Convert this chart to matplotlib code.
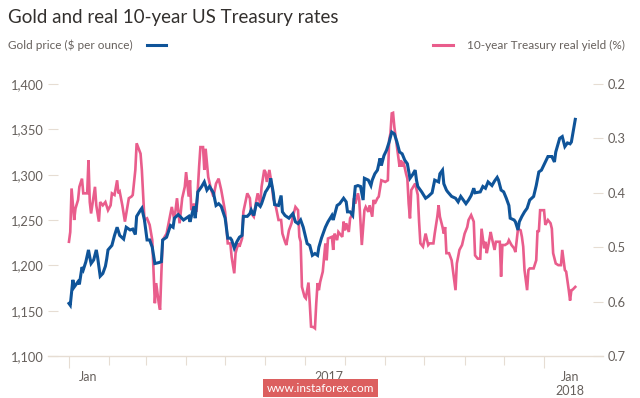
import matplotlib
matplotlib.use("Agg")
import matplotlib.pyplot as plt
from matplotlib.lines import Line2D

# days since 1 Jan 2017
gold_day = [0, 1, 3, 4, 7, 8, 10, 11, 13, 15, 16, 17, 19, 21, 22, 24, 26, 28, 29, 30,
            33, 35, 37, 39, 42, 44, 47, 49, 51, 52, 55, 56, 58, 60, 62, 64, 66, 69, 71, 72,
            75, 78, 80, 81, 84, 88, 92, 93, 96, 97, 99, 102, 104, 106, 108, 111, 113, 115, 117, 120,
            122, 124, 125, 127, 129, 131, 133, 134, 137, 139, 140, 142, 144, 145, 147, 148, 151, 152, 154, 155,
            157, 158, 161, 163, 164, 166, 169, 172, 174, 176, 178, 180, 183, 185, 187, 189, 191, 192, 194, 197,
            199, 202, 203, 206, 208, 211, 213, 214, 216, 218, 219, 220, 222, 224, 226, 227, 230, 232, 233, 235,
            237, 239, 240, 242, 244, 246, 248, 250, 252, 254, 256, 258, 260, 262, 264, 266, 267, 268, 271, 274,
            276, 279, 281, 284, 285, 287, 288, 290, 291, 294, 297, 299, 301, 303, 305, 307, 309, 311, 312, 316,
            318, 320, 322, 325, 327, 329, 330, 332, 334, 336, 338, 339, 342, 343, 345, 346, 348, 350, 352, 354,
            357, 359, 361, 363, 366, 368, 371, 373, 374, 377, 379, 381, 383, 385, 386, 388, 389]
gold = [1158, 1156, 1184, 1176, 1182, 1179, 1198, 1195, 1204, 1217, 1209, 1202, 1206, 1217, 1209, 1188, 1191, 1199, 1207, 1217,
        1222, 1233, 1242, 1233, 1229, 1242, 1239, 1240, 1234, 1254, 1261, 1263, 1250, 1228, 1228, 1220, 1202, 1203, 1204, 1228,
        1231, 1244, 1242, 1252, 1256, 1250, 1254, 1248, 1265, 1252, 1281, 1287, 1292, 1283, 1287, 1280, 1266, 1268, 1265, 1252,
        1230, 1230, 1228, 1219, 1226, 1231, 1233, 1254, 1254, 1257, 1261, 1255, 1268, 1268, 1265, 1268, 1281, 1283, 1288, 1296,
        1280, 1267, 1266, 1277, 1259, 1255, 1252, 1257, 1248, 1246, 1250, 1242, 1224, 1222, 1211, 1213, 1211, 1220, 1230, 1242,
        1248, 1255, 1250, 1266, 1268, 1274, 1270, 1259, 1259, 1255, 1272, 1287, 1288, 1287, 1272, 1296, 1294, 1288, 1294, 1301,
        1305, 1318, 1310, 1321, 1327, 1336, 1347, 1345, 1336, 1325, 1323, 1316, 1312, 1296, 1300, 1305, 1294, 1287, 1281, 1274,
        1276, 1280, 1294, 1292, 1301, 1305, 1290, 1283, 1281, 1276, 1274, 1270, 1276, 1272, 1268, 1272, 1277, 1285, 1280, 1281,
        1287, 1285, 1292, 1288, 1293, 1297, 1294, 1283, 1281, 1274, 1266, 1252, 1250, 1248, 1239, 1248, 1254, 1259, 1263, 1272,
        1276, 1288, 1303, 1305, 1314, 1320, 1320, 1314, 1325, 1340, 1342, 1331, 1335, 1334, 1336, 1353, 1361]

yield_day = [0, 1, 2, 4, 5, 7, 8, 10, 11, 14, 15, 16, 17, 20, 21, 23, 24, 26, 28, 30,
             32, 33, 35, 37, 38, 39, 41, 43, 46, 48, 49, 51, 52, 55, 56, 58, 60, 62, 64, 66,
             67, 69, 70, 71, 72, 75, 78, 79, 81, 83, 85, 87, 89, 90, 92, 93, 94, 96, 98, 100,
             101, 103, 104, 105, 107, 109, 111, 113, 115, 117, 120, 122, 124, 125, 127, 128, 130, 131, 133, 134,
             137, 139, 140, 142, 144, 145, 147, 148, 150, 151, 152, 154, 156, 157, 159, 161, 163, 164, 166, 167,
             169, 171, 172, 174, 176, 177, 178, 179, 181, 182, 184, 185, 186, 188, 189, 190, 191, 192, 193, 195,
             197, 198, 199, 202, 203, 204, 206, 207, 210, 211, 212, 213, 215, 216, 218, 219, 220, 222, 223, 224,
             225, 227, 228, 230, 231, 233, 234, 235, 237, 238, 240, 243, 245, 246, 247, 248, 249, 250, 252, 254,
             255, 256, 257, 259, 260, 261, 262, 263, 266, 268, 269, 270, 272, 274, 276, 277, 280, 281, 283, 284,
             285, 287, 288, 289, 290, 292, 294, 295, 297, 298, 300, 302, 304, 306, 307, 309, 311, 312, 314, 316,
             317, 319, 320, 321, 322, 324, 325, 327, 328, 331, 332, 333, 335, 337, 338, 340, 342, 343, 345, 347,
             348, 349, 350, 352, 353, 354, 357, 359, 360, 361, 362, 365, 366, 368, 370, 371, 372, 374, 376, 378,
             379, 381, 382, 384, 385, 386, 387, 389]
real_yield = [0.490, 0.472, 0.392, 0.450, 0.429, 0.413, 0.389, 0.374, 0.401, 0.401, 0.340, 0.417, 0.438, 0.389, 0.423, 0.453, 0.417, 0.423, 0.417, 0.432,
              0.423, 0.401, 0.404, 0.377, 0.401, 0.398, 0.423, 0.453, 0.410, 0.407, 0.404, 0.358, 0.309, 0.328, 0.358, 0.450, 0.447, 0.459, 0.487, 0.603,
              0.566, 0.603, 0.615, 0.548, 0.487, 0.475, 0.438, 0.426, 0.450, 0.410, 0.456, 0.410, 0.389, 0.362, 0.407, 0.377, 0.432, 0.420, 0.435, 0.352,
              0.316, 0.316, 0.358, 0.319, 0.371, 0.392, 0.407, 0.383, 0.374, 0.395, 0.435, 0.493, 0.493, 0.518, 0.548, 0.511, 0.493, 0.499, 0.484, 0.435,
              0.401, 0.410, 0.438, 0.444, 0.413, 0.401, 0.420, 0.389, 0.358, 0.362, 0.380, 0.358, 0.389, 0.410, 0.426, 0.450, 0.450, 0.475, 0.490, 0.496,
              0.469, 0.456, 0.444, 0.426, 0.432, 0.481, 0.490, 0.573, 0.591, 0.594, 0.565, 0.603, 0.646, 0.647, 0.649, 0.603, 0.566, 0.579, 0.564, 0.545,
              0.493, 0.524, 0.484, 0.481, 0.505, 0.475, 0.487, 0.472, 0.481, 0.453, 0.469, 0.456, 0.472, 0.447, 0.438, 0.410, 0.420, 0.401, 0.413, 0.456,
              0.496, 0.432, 0.426, 0.435, 0.423, 0.444, 0.413, 0.420, 0.410, 0.407, 0.377, 0.380, 0.377, 0.303, 0.291, 0.254, 0.253, 0.279, 0.316, 0.352,
              0.340, 0.352, 0.343, 0.365, 0.374, 0.420, 0.447, 0.395, 0.383, 0.404, 0.453, 0.493, 0.499, 0.475, 0.496, 0.493, 0.493, 0.475, 0.444, 0.423,
              0.444, 0.463, 0.475, 0.463, 0.511, 0.511, 0.524, 0.542, 0.579, 0.530, 0.505, 0.496, 0.475, 0.463, 0.450, 0.441, 0.453, 0.515, 0.521, 0.521,
              0.466, 0.502, 0.490, 0.511, 0.499, 0.472, 0.484, 0.505, 0.490, 0.490, 0.554, 0.496, 0.496, 0.493, 0.487, 0.496, 0.502, 0.509, 0.466, 0.469,
              0.481, 0.499, 0.542, 0.579, 0.542, 0.539, 0.539, 0.524, 0.469, 0.472, 0.432, 0.432, 0.459, 0.450, 0.456, 0.466, 0.511, 0.530, 0.533, 0.533,
              0.505, 0.542, 0.545, 0.579, 0.598, 0.579, 0.578, 0.573]

month_starts = [0, 31, 59, 90, 120, 151, 181, 212, 243, 273, 304, 334, 365]
xlabel_pos = [14.6, 199.8, 385]
xlabels = ["Jan", "2017", "Jan\n2018"]
gold_ticks = [1100, 1150, 1200, 1250, 1300, 1350, 1400]
yield_ticks = [0.2, 0.3, 0.4, 0.5, 0.6, 0.7]

BLUE = "#0f5499"
PINK = "#e95d8c"
GREY = "#66605c"
RULE = "#e6ddd3"

plt.rcParams["font.family"] = ["Lato", "DejaVu Sans"]

fig = plt.figure(figsize=(6.4, 3.98), dpi=100)
ax = fig.add_axes([48 / 640, 1 - 356 / 398, 555 / 640, 272 / 398])
ax2 = ax.twinx()
ax.set_zorder(ax2.get_zorder() + 1)
ax.patch.set_visible(False)

ax2.plot(yield_day, real_yield, color=PINK, lw=1.9, solid_joinstyle="miter")
ax.plot(gold_day, gold, color=BLUE, lw=2.2, solid_joinstyle="miter")

ax.set_xlim(-16.1, 410.3)
ax.set_ylim(1100, 1400)
ax2.set_ylim(0.7, 0.2)

for a in (ax, ax2):
    for s in ("top", "left", "right", "bottom"):
        a.spines[s].set_visible(False)
ax.spines["bottom"].set_visible(True)
ax.spines["bottom"].set_color(RULE)
ax.spines["bottom"].set_linewidth(1.0)

ax.set_yticks(gold_ticks)
ax.set_yticklabels([f"{v:,}" for v in gold_ticks])
ax.tick_params(axis="y", direction="in", length=7.5, width=0.8, color=RULE,
               labelcolor=GREY, labelsize=9.3, pad=3)
ax2.set_yticks(yield_ticks)
ax2.set_yticklabels([f"{v:.1f}" for v in yield_ticks])
ax2.tick_params(axis="y", direction="in", length=7.5, width=0.8, color=RULE,
                labelcolor=GREY, labelsize=9.3, pad=3)

ax.set_xticks(month_starts)
ax.set_xticklabels([])
ax.tick_params(axis="x", which="major", direction="out", length=6.5, width=0.8, color=RULE)
# year boundaries get slightly longer ticks
for t in (ax.xaxis.get_major_ticks()[0], ax.xaxis.get_major_ticks()[-1]):
    t.tick1line.set_markersize(8.5)
ax.set_xticks(xlabel_pos, minor=True)
ax.set_xticklabels(xlabels, minor=True, linespacing=1.2)
ax.tick_params(axis="x", which="minor", length=0, labelcolor=GREY, labelsize=9, pad=11)

fig.text(8 / 640, 1 - 17 / 398, "Gold and real 10-year US Treasury rates",
         fontsize=13.5, color="#33302e", va="center", ha="left")
fig.text(8 / 640, 1 - 45 / 398, "Gold price ($ per ounce)", fontsize=8.5, color=GREY,
         va="center", ha="left")
fig.add_artist(Line2D([147 / 640, 166 / 640], [1 - 45 / 398] * 2, color=BLUE, lw=2.2))
fig.add_artist(Line2D([433 / 640, 453 / 640], [1 - 45 / 398] * 2, color=PINK, lw=2.2))
fig.text(625 / 640, 1 - 45 / 398, "10-year Treasury real yield (%)", fontsize=8.5, color=GREY,
         va="center", ha="right")

fig.text(320.5 / 640, 1 - 388 / 398, "www.instaforex.com", fontsize=8.5, color="white",
         ha="center", va="center",
         bbox=dict(boxstyle="square,pad=0.3", facecolor="#dc5f5f", edgecolor="none"))

fig.savefig("out.png", dpi=100)
